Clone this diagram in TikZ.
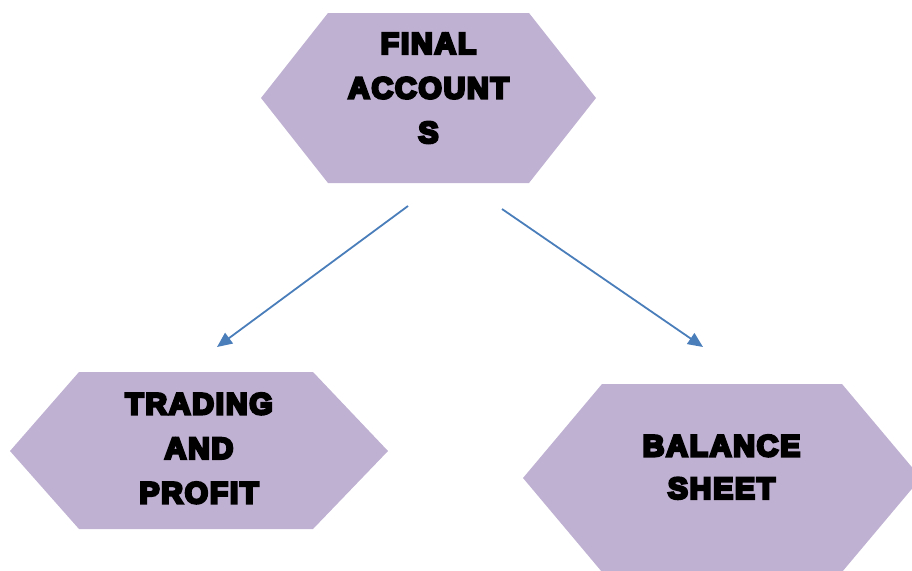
\documentclass[tikz,border=0pt]{standalone}
\usepackage{fontspec}
\usetikzlibrary{arrows.meta}
\newfontfamily\heavy{Liberation Sans Bold}[FakeBold=9, LetterSpace=6]
\definecolor{hexfill}{RGB}{191,177,210}
\definecolor{arrowblue}{RGB}{74,126,187}
\tikzset{
  hexa/.style={fill=hexfill, draw=none},
  lbl/.style={inner sep=0pt, anchor=north, align=center, text=black},
  link/.style={draw=arrowblue, line width=1.8pt, -{Triangle[length=15pt,width=13pt]}}
}
\begin{document}
\begin{tikzpicture}[x=1pt, y=-1pt]
\useasboundingbox (0,0) rectangle (912,570);
% hexagons
\fill[hexa] (261,98) -- (328,13) -- (529,13) -- (596,98) -- (529,183) -- (328,183) -- cycle;
\fill[hexa] (10,451) -- (79,372) -- (313,372) -- (388,451) -- (313,529) -- (79,529) -- cycle;
\fill[hexa] (523,478) -- (602,384) -- (842,384) -- (921,478) -- (842,572) -- (602,572) -- cycle;
% labels
\node[lbl, font={\heavy\fontsize{30}{44.5}\selectfont}] (fa) at (428.5,33) {FINAL\\ACCOUNT\\S};
\node[lbl, font={\heavy\fontsize{30}{44.5}\selectfont}] (tp) at (199,393) {TRADING\\AND\\PROFIT};
\node[lbl, font={\heavy\fontsize{30}{42.5}\selectfont}] (bs) at (721.5,435) {BALANCE\\SHEET};
% connector ends
\coordinate (s1) at (408,206);
\coordinate (e1) at (217,347);
\coordinate (s2) at (502,209);
\coordinate (e2) at (703,347);
\draw[link] (s1) -- (e1);
\draw[link] (s2) -- (e2);
\end{tikzpicture}
\end{document}
